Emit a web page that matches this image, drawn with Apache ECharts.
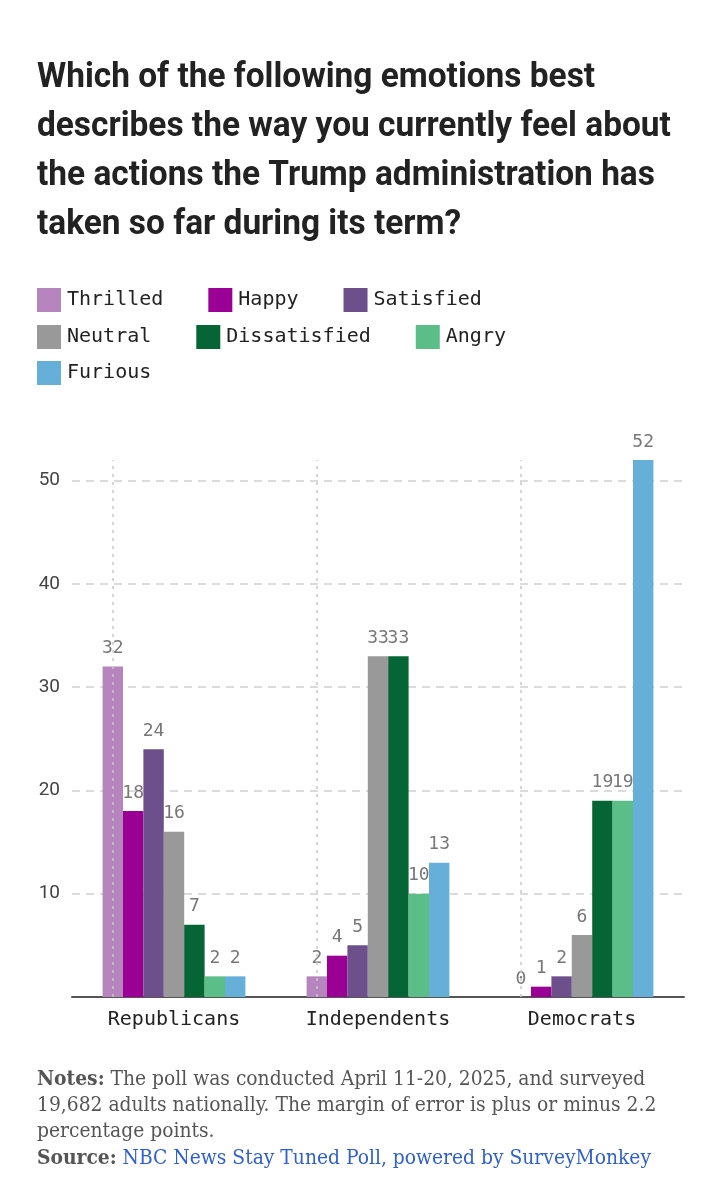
<!DOCTYPE html>
<html style="height: 100%">
<head>
<meta charset="utf-8">
</head>
<body style="height: 100%; margin: 0; background: #fff">
<div id="container" style="width: 719px; height: 1200px;"></div>
<script type="text/javascript" src="https://cdn.jsdelivr.net/npm/echarts@6/dist/echarts.min.js"></script>
<script type="text/javascript">
var categories = ['Republicans', 'Independents', 'Democrats'];
var emotions = ['Thrilled', 'Happy', 'Satisfied', 'Neutral', 'Dissatisfied', 'Angry', 'Furious'];
var thrilled = [32, 2, 0];
var happy = [18, 4, 1];
var satisfied = [24, 5, 2];
var neutral = [16, 33, 6];
var dissatisfied = [7, 33, 19];
var angry = [2, 10, 19];
var furious = [2, 13, 52];
var colors = ['#b685bd', '#9b0095', '#6c4f8b', '#999999', '#066535', '#5bbe88', '#65afd9'];

var titleText = 'Which of the following emotions best\ndescribes the way you currently feel about\nthe actions the Trump administration has\ntaken so far during its term?';

var MONO = "'DejaVu Sans Mono', 'Liberation Mono', monospace";
var SERIF = "'DejaVu Serif Condensed', 'Liberation Serif', serif";

var dom = document.getElementById('container');
var myChart = echarts.init(dom, null, { renderer: 'canvas' });

var values = [thrilled, happy, satisfied, neutral, dissatisfied, angry, furious];
var series = emotions.map(function (name, i) {
    var s = {
        name: name,
        type: 'bar',
        data: values[i],
        barGap: 0,
        barCategoryGap: '30%',
        itemStyle: { color: colors[i] },
        label: {
            show: true,
            position: 'top',
            distance: 9,
            color: '#777',
            fontFamily: MONO,
            fontSize: 18
        }
    };
    if (i === 0) {
        // dotted verticals through the centre of each group
        s.markLine = {
            silent: true,
            symbol: 'none',
            label: { show: false },
            lineStyle: { color: '#c8c8c8', type: [3, 5], width: 1.5 },
            data: categories.map(function (c) { return { xAxis: c }; })
        };
    }
    return s;
});

function legendRow(names, top) {
    return {
        data: names,
        left: 37,
        top: top,
        padding: 0,
        itemWidth: 24,
        itemHeight: 24,
        itemGap: 45,
        icon: 'rect',
        selectedMode: false,
        textStyle: { fontFamily: MONO, fontSize: 20, color: '#222', padding: [0, 0, 0, 1] }
    };
}

var option = {
    animation: false,
    color: colors,
    graphic: [{
        type: 'text',
        x: 37,
        y: 54,
        scaleX: 0.955,
        style: {
            text: titleText,
            font: 'bold 35px Roboto, sans-serif',
            lineHeight: 49,
            fill: '#222',
            verticalAlign: 'top'
        }
    }],
    title: [{
        text: '{b|Notes:} The poll was conducted April 11-20, 2025, and surveyed\n19,682 adults nationally. The margin of error is plus or minus 2.2\npercentage points.',
        left: 37,
        top: 1067,
        padding: 0,
        textStyle: {
            fontFamily: SERIF,
            fontSize: 20.8,
            fontWeight: 'normal',
            lineHeight: 26,
            color: '#555',
            rich: {
                b: { fontFamily: SERIF, fontSize: 20.8, fontWeight: 'bold', color: '#555', lineHeight: 26 }
            }
        }
    }, {
        text: '{b|Source:} {a|NBC News Stay Tuned Poll, powered by SurveyMonkey}',
        left: 37,
        top: 1146,
        padding: 0,
        textStyle: {
            fontFamily: SERIF,
            fontSize: 20.8,
            fontWeight: 'normal',
            lineHeight: 26,
            color: '#555',
            rich: {
                b: { fontFamily: SERIF, fontSize: 20.8, fontWeight: 'bold', color: '#555' },
                a: { fontFamily: SERIF, fontSize: 20.8, fontWeight: 'normal', color: '#2f5fd0' }
            }
        }
    }],
    legend: [
        legendRow(emotions.slice(0, 3), 288),
        legendRow(emotions.slice(3, 6), 325),
        legendRow(emotions.slice(6), 361)
    ],
    grid: {
        left: 72,
        right: 35,
        top: 460,
        bottom: 203
    },
    xAxis: {
        type: 'category',
        data: categories,
        axisLine: { lineStyle: { color: '#555', width: 2 } },
        axisTick: { show: false },
        axisLabel: {
            margin: 13,
            fontFamily: MONO,
            fontSize: 20,
            color: '#222'
        },
        splitLine: { show: false }
    },
    yAxis: {
        type: 'value',
        min: 0,
        max: 52,
        interval: 10,
        axisLine: { show: false },
        axisTick: { show: false },
        axisLabel: {
            showMinLabel: false,
            showMaxLabel: false,
            margin: 12,
            fontFamily: "Roboto, 'Noto Sans', sans-serif",
            fontSize: 19,
            color: '#444'
        },
        splitLine: {
            showMaxLine: false,
            lineStyle: { color: '#cfcfcf', type: [8, 6], width: 1.5 }
        }
    },
    series: series
};

myChart.setOption(option);
</script>
</body>
</html>
